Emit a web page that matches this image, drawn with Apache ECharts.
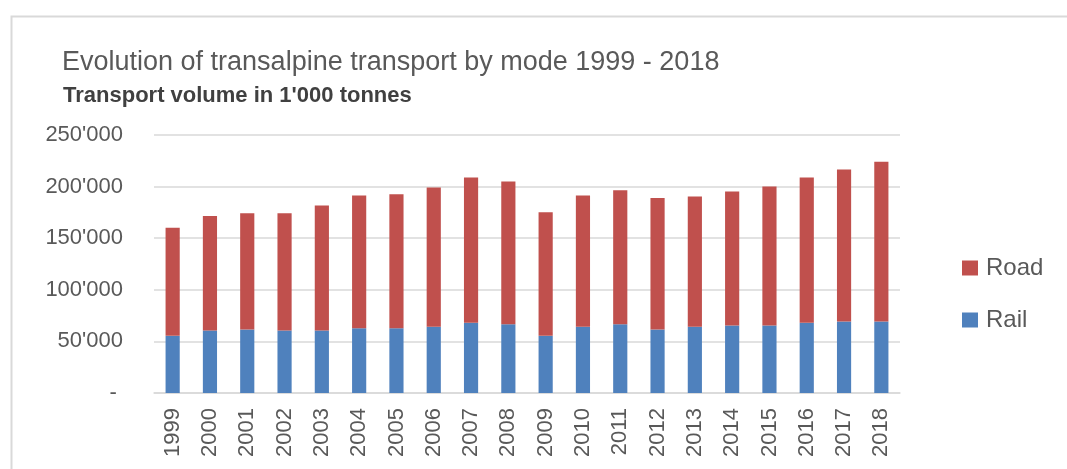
<!DOCTYPE html>
<html>
<head>
<meta charset="utf-8">
<script src="https://cdn.jsdelivr.net/npm/echarts@6/dist/echarts.min.js"></script>
<style>
  html, body { margin: 0; padding: 0; background: #fff; }
  #chart { width: 1067px; height: 469px; }
</style>
</head>
<body>
<div id="chart"></div>
<script>
// years on the x axis
var years = ['1999', '2000', '2001', '2002', '2003', '2004', '2005', '2006', '2007', '2008',
             '2009', '2010', '2011', '2012', '2013', '2014', '2015', '2016', '2017', '2018'];
// transport volume, 1'000 tonnes
var rail = [55400, 60600, 61500, 60600, 60600, 62800, 62800, 64100, 68000, 66700,
            55400, 64100, 66700, 61500, 64100, 65400, 65400, 68000, 69300, 69300];
var road = [104800, 111000, 112700, 113600, 121000, 128500, 129800, 135000, 140800, 138200,
            119800, 127200, 129800, 127500, 126200, 129800, 134600, 140800, 147200, 154700];

var FONT = '"Liberation Sans", Arial, sans-serif';
var GREY = '#595959';

// 250000 -> 250'000, 0 -> '-'
function fmtThousands(v) {
  if (v === 0) return '- ';
  return String(v).replace(/\B(?=(\d{3})+(?!\d))/g, "'");
}

var chart = echarts.init(document.getElementById('chart'), null, { renderer: 'canvas' });

var option = {
  animation: false,
  backgroundColor: '#fff',
  textStyle: { fontFamily: FONT },
  title: [{
    text: 'Evolution of transalpine transport by mode 1999 - 2018',
    left: 57,
    top: 44,
    textStyle: { fontFamily: FONT, fontSize: 27, fontWeight: 'normal', color: GREY }
  }, {
    text: "Transport volume in 1'000 tonnes",
    left: 58,
    top: 80,
    textStyle: { fontFamily: FONT, fontSize: 22, fontWeight: 'bold', color: '#404040' }
  }],
  graphic: [{
    // outer chart frame (only top and left edges visible)
    type: 'rect',
    left: 9,
    top: 14,
    shape: { width: 1200, height: 600 },
    style: { fill: 'none', stroke: '#d9d9d9', lineWidth: 2 },
    silent: true
  }],
  legend: {
    orient: 'vertical',
    left: 957,
    top: 251,
    icon: 'rect',
    itemWidth: 16,
    itemHeight: 15,
    itemGap: 28,
    data: ['Road', 'Rail'],
    textStyle: { fontFamily: FONT, fontSize: 24, color: GREY, padding: [0, 0, 0, 3] }
  },
  grid: {
    left: 154,
    right: 167,
    top: 135,
    bottom: 76,
    containLabel: false
  },
  xAxis: {
    type: 'category',
    data: years,
    axisLine: { lineStyle: { color: '#d9d9d9', width: 1.5 } },
    axisTick: { show: false },
    axisLabel: {
      rotate: 90,
      margin: 15,
      fontFamily: FONT,
      fontSize: 22,
      color: GREY
    }
  },
  yAxis: {
    type: 'value',
    min: 0,
    max: 250000,
    interval: 50000,
    axisLine: { show: false },
    axisTick: { show: false },
    splitLine: { lineStyle: { color: '#d9d9d9', width: 1.5 } },
    axisLabel: {
      margin: 31,
      fontFamily: FONT,
      fontSize: 22,
      color: GREY,
      formatter: fmtThousands
    }
  },
  series: [{
    name: 'Rail',
    type: 'bar',
    stack: 'total',
    data: rail,
    barCategoryGap: '62%',
    itemStyle: { color: '#4f81bd' }
  }, {
    name: 'Road',
    type: 'bar',
    stack: 'total',
    data: road,
    barCategoryGap: '62%',
    itemStyle: { color: '#c0504d' }
  }]
};

chart.setOption(option);
</script>
</body>
</html>
